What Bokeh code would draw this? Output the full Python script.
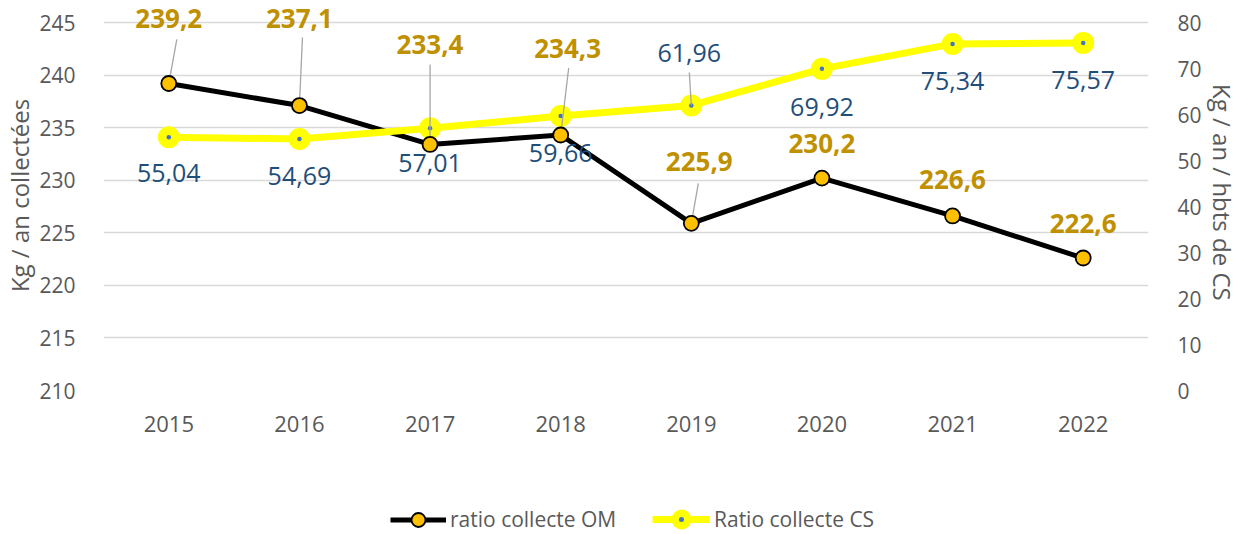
import math
from bokeh.plotting import figure
from bokeh.layouts import column
from bokeh.models import (Range1d, LinearAxis, Legend, LegendItem, ColumnDataSource,
                          FixedTicker, FactorRange, LabelSet)
from bokeh.core.properties import value
from bokeh.embed import file_html
from bokeh.resources import INLINE

# ---------------- data ----------------
years = ["2015", "2016", "2017", "2018", "2019", "2020", "2021", "2022"]
om = [239.2, 237.1, 233.4, 234.3, 225.9, 230.2, 226.6, 222.6]
cs = [55.04, 54.69, 57.01, 59.66, 61.96, 69.92, 75.34, 75.57]
left_ticks = [210, 215, 220, 225, 230, 235, 240, 245]
right_ticks = [0, 10, 20, 30, 40, 50, 60, 70, 80]
om_name = "ratio collecte OM"
cs_name = "Ratio collecte CS"
left_title = "Kg / an collectées"
right_title = "Kg / an / hbts  de CS"

# ---------------- styles ----------------
FONT = "Open Sans"
GREY_TXT = "#595959"
GOLD = "#BF9000"
BLUE = "#1F4E79"
OM_LINE = dict(line_color="black", line_width=5)
OM_MK = dict(size=15, fill_color="#FFC000", line_color="black", line_width=1.8)
CS_LINE = dict(line_color="#FFFF00", line_width=7)
CS_MK = dict(size=22, fill_color="#FFFF00", line_color=None)
CS_DOT = dict(marker="dot", size=18, fill_color="#4472C4", line_color="#4472C4")
# label offsets in screen px (dx, dy with dy positive = up)
om_lab_off = [(0, 65), (0, 87), (0, 100), (7, 87), (8, 62), (0, 35), (0, 36), (0, 35)]
cs_lab_off = [(0, -36), (0, -37), (0, -35), (0, -37), (-2, 52), (0, -38), (0, -37), (0, -37)]
# leader line ends in screen px from the point (None = no leader)
om_lead = [(8, 44), (3, 68), (0, 80), (8, 67), (7, 40), None, None, None]
cs_lead = [None, None, None, None, (-2, 33), None, None, None]

W, H1, H2 = 1242, 504, 30
TOP_PX, FRAME_PX = 22, 368          # space above the 245 / 80 gridline, gridded height
L0, L1 = 210, 245
R0, R1 = 0, 80
y_top = L1 + TOP_PX * (L1 - L0) / FRAME_PX
r_top = R1 + TOP_PX * (R1 - R0) / FRAME_PX

p = figure(width=W, height=H1, x_range=FactorRange(*years), y_range=Range1d(L0, y_top),
           output_backend="svg", toolbar_location=None,
           min_border_left=103, min_border_right=94, min_border_top=0,
           min_border_bottom=H1 - TOP_PX - FRAME_PX)
p.outline_line_color = None
p.background_fill_color = "white"
p.border_fill_color = "white"
p.extra_y_ranges = {"cs": Range1d(R0, r_top)}

# axes
p.yaxis.ticker = FixedTicker(ticks=left_ticks)
p.yaxis.axis_label = left_title
ax_r = LinearAxis(y_range_name="cs", ticker=FixedTicker(ticks=right_ticks), axis_label=right_title)
p.add_layout(ax_r, "right")
for ax in [p.xaxis[0], p.yaxis[0], ax_r]:
    ax.axis_line_color = None
    ax.major_tick_line_color = None
    ax.minor_tick_line_color = None
    ax.major_label_text_font = FONT
    ax.major_label_text_font_size = "21px"
    ax.major_label_text_color = GREY_TXT
    ax.axis_label_text_font = FONT
    ax.axis_label_text_font_size = "24px"
    ax.axis_label_text_font_style = "normal"
    ax.axis_label_text_color = GREY_TXT
p.yaxis[0].major_label_standoff = 22
p.yaxis[0].axis_label_standoff = 0
ax_r.major_label_standoff = 23
ax_r.axis_label_standoff = 1
p.xaxis[0].major_label_standoff = 19
p.xaxis[0].major_label_text_font_size = "22px"

p.xgrid.grid_line_color = None
p.ygrid.grid_line_color = "#D9D9D9"
p.ygrid.grid_line_width = 1.5

src = ColumnDataSource(dict(
    x=years, om=om, cs=cs,
    om_txt=[f"{v:.1f}".replace(".", ",") for v in om],
    cs_txt=[f"{v:.2f}".replace(".", ",") for v in cs],
    om_dx=[o[0] for o in om_lab_off], om_dy=[o[1] for o in om_lab_off],
    cs_dx=[o[0] for o in cs_lab_off], cs_dy=[o[1] for o in cs_lab_off],
))

# lines and markers
p.line("x", "om", source=src, **OM_LINE)
p.line("x", "cs", source=src, y_range_name="cs", **CS_LINE)
p.scatter("x", "cs", source=src, y_range_name="cs", **CS_MK)
p.scatter("x", "cs", source=src, y_range_name="cs", **CS_DOT)

# leader lines
def leaders(vals, leads):
    xs, ys, ln, an = [], [], [], []
    for x, v, l in zip(years, vals, leads):
        if l is None:
            continue
        xs.append(x); ys.append(v)
        ln.append(math.hypot(l[0], l[1])); an.append(math.atan2(l[1], l[0]))
    return dict(x=xs, y=ys, length=ln, angle=an)

p.ray(source=ColumnDataSource(leaders(om, om_lead)), x="x", y="y", length="length",
      angle="angle", length_units="screen", line_color="#A6A6A6", line_width=1.3)
p.ray(source=ColumnDataSource(leaders(cs, cs_lead)), x="x", y="y", length="length",
      angle="angle", length_units="screen", line_color="#A6A6A6", line_width=1.3,
      y_range_name="cs")

p.scatter("x", "om", source=src, **OM_MK)

# data labels
p.add_layout(LabelSet(x="x", y="om", text="om_txt", source=src, x_offset="om_dx",
                      y_offset="om_dy", text_font=value(FONT), text_font_size="26px",
                      text_font_style="bold", text_color=GOLD, text_align="center",
                      text_baseline="middle"))
p.add_layout(LabelSet(x="x", y="cs", text="cs_txt", source=src, x_offset="cs_dx",
                      y_offset="cs_dy", text_font=value(FONT), text_font_size="25px",
                      text_color=BLUE, text_align="center", text_baseline="middle",
                      y_range_name="cs"))

# ---------------- legend strip ----------------
# same series, drawn outside this strip's visible range: only the legends show
q = figure(width=W, height=H2, output_backend="svg", toolbar_location=None,
           x_range=FactorRange(*years), y_range=Range1d(0, 1),
           min_border_left=0, min_border_right=0, min_border_top=0, min_border_bottom=0,
           x_axis_type=None, y_axis_type=None)
q.outline_line_color = None
q.grid.visible = False
l1 = q.line("x", "om", source=src, **OM_LINE)
m1 = q.scatter("x", "om", source=src, **OM_MK)
l2 = q.line("x", "cs", source=src, **CS_LINE)
m2 = q.scatter("x", "cs", source=src, **CS_MK)
d2 = q.scatter("x", "cs", source=src, **CS_DOT)
common = dict(orientation="horizontal", label_text_font=FONT, label_text_font_size="21px",
              label_text_color=GREY_TXT, padding=0, margin=0, border_line_color=None,
              background_fill_alpha=0, label_standoff=4, label_height=20)
# glyph heights set the legend marker sizes (0.4 x height); centred in the 30 px strip
leg1 = Legend(items=[LegendItem(label=om_name, renderers=[l1, m1])],
              location=(287, -2.5), glyph_width=56, glyph_height=35, **common)
leg2 = Legend(items=[LegendItem(label=cs_name, renderers=[l2, m2, d2])],
              location=(549, -10), glyph_width=58, glyph_height=50, **common)
q.add_layout(leg1, "center")
q.add_layout(leg2, "center")

open("out.html", "w").write(file_html(column(p, q, spacing=0), INLINE))
